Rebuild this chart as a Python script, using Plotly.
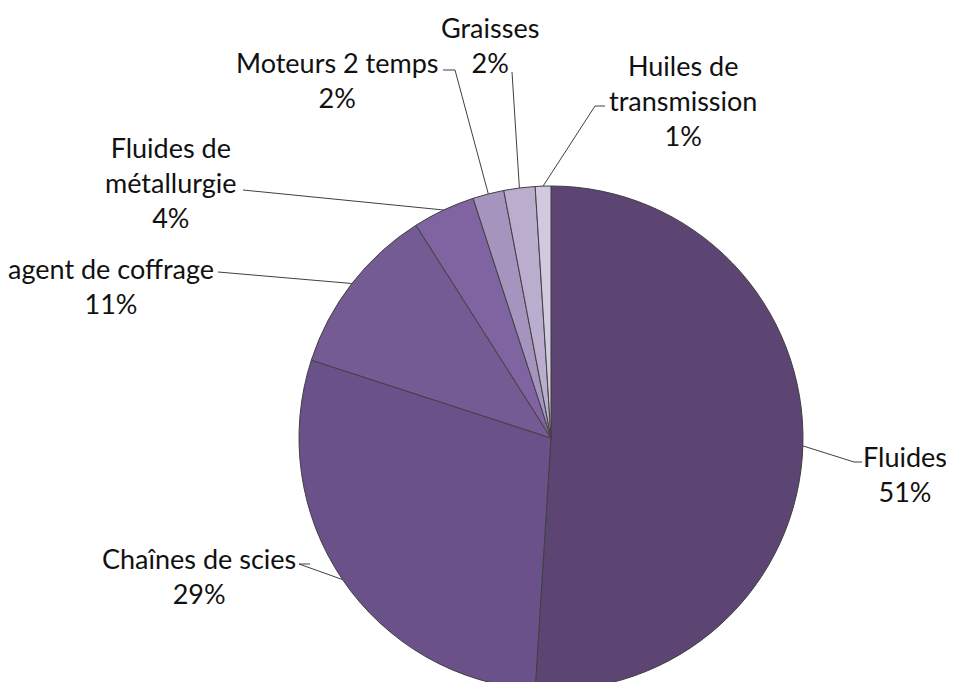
import numpy as np
import plotly.graph_objects as go

W, H = 954, 682
OFF = 8  # marge par défaut du <body> dans la page

# données
labels = ["Fluides", "Chaînes de scies", "agent de coffrage", "Fluides de métallurgie",
          "Moteurs 2 temps", "Graisses", "Huiles de transmission"]
values = [51, 29, 11, 4, 2, 2, 1]
label_text = ["Fluides", "Chaînes de scies", "agent de coffrage", "Fluides de<br>métallurgie",
              "Moteurs 2 temps", "Graisses", "Huiles de<br>transmission"]
colors = ["#5C4572", "#6A5189", "#745B93", "#8064A2", "#A594BE", "#BAADCE", "#D2C9E0"]

# géométrie du camembert (pixels écran)
CX, CY, R = 551, 438, 252

# position des étiquettes et départ du trait de rappel
label_pos = [
    (905, 474),
    (199, 576),
    (111, 286),
    (171, 182),
    (337, 80),
    (490, 45),
    (683, 100),
]
leader_start = [
    [(862, 462), (854, 462)],
    [(310, 564), (299, 564)],
    [(218, 272)],
    [(243, 190)],
    [(443, 70), (455, 70)],
    [(512, 72)],
    [(605, 106), (595, 106)],
]

fig = go.Figure()
fig.add_trace(
    go.Pie(
        labels=labels,
        values=values,
        sort=False,
        direction="clockwise",
        rotation=0,
        textinfo="none",
        hoverinfo="label+percent",
        marker=dict(colors=colors, line=dict(color="#404040", width=1)),
        domain=dict(
            x=[(CX - R - OFF) / W, (CX + R - OFF) / W],
            y=[(H + OFF - CY - R) / H, (H + OFF - CY + R) / H],
        ),
        showlegend=False,
    )
)

# traits de rappel vers le milieu de chaque part
total = sum(values)
cum = np.cumsum([0] + values[:-1])
shapes = []
annotations = []
for i, v in enumerate(values):
    ang = 2 * np.pi * (cum[i] + v / 2) / total
    px = CX + R * np.sin(ang)
    py = CY - R * np.cos(ang)
    pts = leader_start[i] + [(px, py)]
    path = "M " + " L ".join(f"{x:.1f},{y:.1f}" for x, y in pts)
    shapes.append(dict(type="path", path=path, xref="x", yref="y",
                       line=dict(color="#404040", width=1)))
    x, y = label_pos[i]
    pct = round(100 * v / total)
    annotations.append(dict(
        x=x, y=y, xref="x", yref="y", xanchor="center", yanchor="middle",
        text=f"{label_text[i]}<br>{pct}%", showarrow=False, align="center",
        font=dict(family="Lato", size=27, color="#111111"),
    ))

fig.update_layout(
    width=W,
    height=H,
    margin=dict(l=0, r=0, t=0, b=0),
    paper_bgcolor="white",
    plot_bgcolor="rgba(0,0,0,0)",
    xaxis=dict(range=[OFF, W + OFF], visible=False, fixedrange=True),
    yaxis=dict(range=[H + OFF, OFF], visible=False, fixedrange=True),
    shapes=shapes,
    annotations=annotations,
)

fig.write_html("out.html")
